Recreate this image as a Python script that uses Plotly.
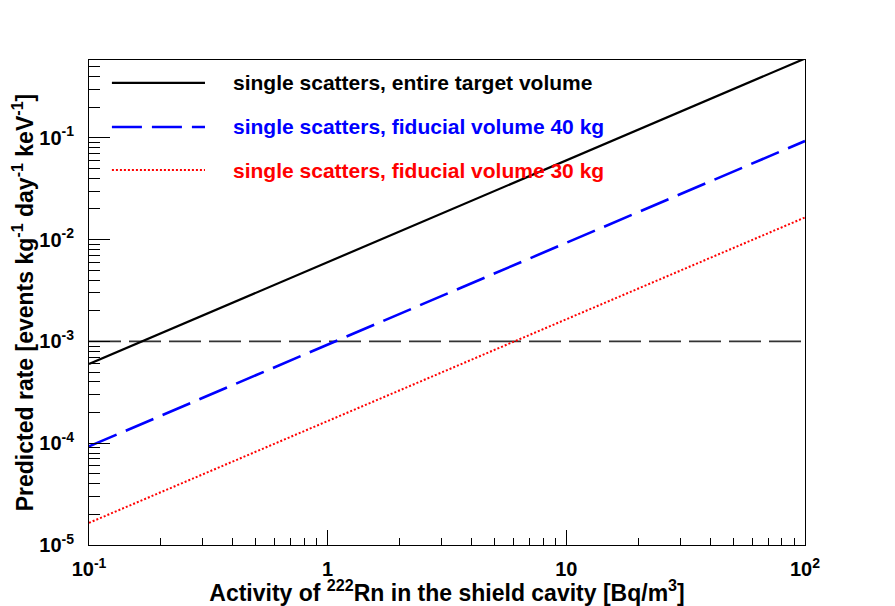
import plotly.graph_objects as go

# Rn-222 activity in the shield cavity [Bq/m^3]
activity = [0.1, 1, 10, 100]
# predicted single-scatter rate [events / (kg day keV)]
rate_entire = [6.0e-4, 6.0e-3, 6.0e-2, 6.0e-1]
rate_fid40 = [9.3e-5, 9.3e-4, 9.3e-3, 9.3e-2]
rate_fid30 = [1.65e-5, 1.65e-4, 1.65e-3, 1.65e-2]
goal_rate = [1e-3, 1e-3]
goal_x = [0.1, 100]

names = ['single scatters, entire target volume',
         'single scatters, fiducial volume 40 kg',
         'single scatters, fiducial volume 30 kg']
colors = ['black', '#0000ff', '#ff0000']
dashes = ['solid', '30px,10px', '2px,2px']
widths = [2.2, 2.6, 2]

x_tickvals = [0.1, 1, 10, 100]
x_ticktext = ['10<sup>-1</sup>', '1', '10', '10<sup>2</sup>']
y_tickvals = [1e-5, 1e-4, 1e-3, 1e-2, 1e-1]
y_ticktext = ['10<sup>-5</sup>', '10<sup>-4</sup>', '10<sup>-3</sup>',
              '10<sup>-2</sup>', '10<sup>-1</sup>']

x_minor = [m * 10.0 ** e for e in (-1, 0, 1) for m in range(2, 10)]
y_minor = [m * 10.0 ** e for e in (-5, -4, -3, -2, -1) for m in range(2, 10)]

font = 'Liberation Sans, Arial, Helvetica, sans-serif'

fig = go.Figure()

fig.add_trace(go.Scatter(
    x=goal_x, y=goal_rate, mode='lines',
    line=dict(color='#333333', width=1.6, dash='32px,8px'),
    showlegend=False
))

for ys, name, c, d, w in zip([rate_entire, rate_fid40, rate_fid30], names, colors, dashes, widths):
    fig.add_trace(go.Scatter(
        x=activity, y=ys, mode='lines', name=name,
        line=dict(color=c, width=w, dash=d),
        showlegend=False
    ))

# hand-made legend (long line samples like ROOT)
leg_y = [0.953, 0.862, 0.773]
for i, (name, c, d, w) in enumerate(zip(names, colors, dashes, widths)):
    fig.add_shape(type='line', xref='paper', yref='paper',
                  x0=0.032, x1=0.162, y0=leg_y[i], y1=leg_y[i],
                  line=dict(color=c, width=w, dash=d))
    fig.add_annotation(xref='paper', yref='paper', x=0.198, y=leg_y[i],
                       text='<b>' + name + '</b>', showarrow=False,
                       xanchor='left', yanchor='middle',
                       font=dict(family=font, size=21, color=c))

# page body has an 8px margin, so the figure is a bit smaller than the window
fig.update_layout(
    width=887,
    height=598,
    margin=dict(l=81, r=90, t=52, b=61),
    plot_bgcolor='white',
    paper_bgcolor='white',
    font=dict(family=font, color='black'),
    xaxis=dict(
        type='log',
        range=[-1, 2],
        automargin=False,
        tickvals=x_tickvals,
        ticktext=x_ticktext,
        ticks='inside',
        ticklen=15,
        tickwidth=1,
        tickcolor='black',
        ticklabelstandoff=6,
        minor=dict(tickvals=x_minor, ticks='inside', ticklen=7, tickcolor='black', tickwidth=1),
        showline=True, linecolor='black', linewidth=1, mirror=True,
        showgrid=False, zeroline=False,
        tickfont=dict(family=font, size=20, weight='bold'),
        title=dict(text='<b>Activity of <sup>222</sup>Rn in the shield cavity [Bq/m<sup>3</sup>]</b>',
                   font=dict(family=font, size=23), standoff=2),
    ),
    yaxis=dict(
        type='log',
        range=[-5, -0.236],
        automargin=False,
        tickvals=y_tickvals,
        ticktext=y_ticktext,
        ticks='inside',
        ticklen=21,
        tickwidth=1,
        tickcolor='black',
        ticklabelstandoff=10,
        minor=dict(tickvals=y_minor, ticks='inside', ticklen=11, tickcolor='black', tickwidth=1),
        showline=True, linecolor='black', linewidth=1, mirror=True,
        showgrid=False, zeroline=False,
        tickfont=dict(family=font, size=20, weight='bold'),
        title=dict(text='<b>Predicted rate [events kg<sup>-1</sup> day<sup>-1</sup> keV<sup>-1</sup>]</b>',
                   font=dict(family=font, size=23), standoff=1),
    ),
)

fig.write_html('out.html')
